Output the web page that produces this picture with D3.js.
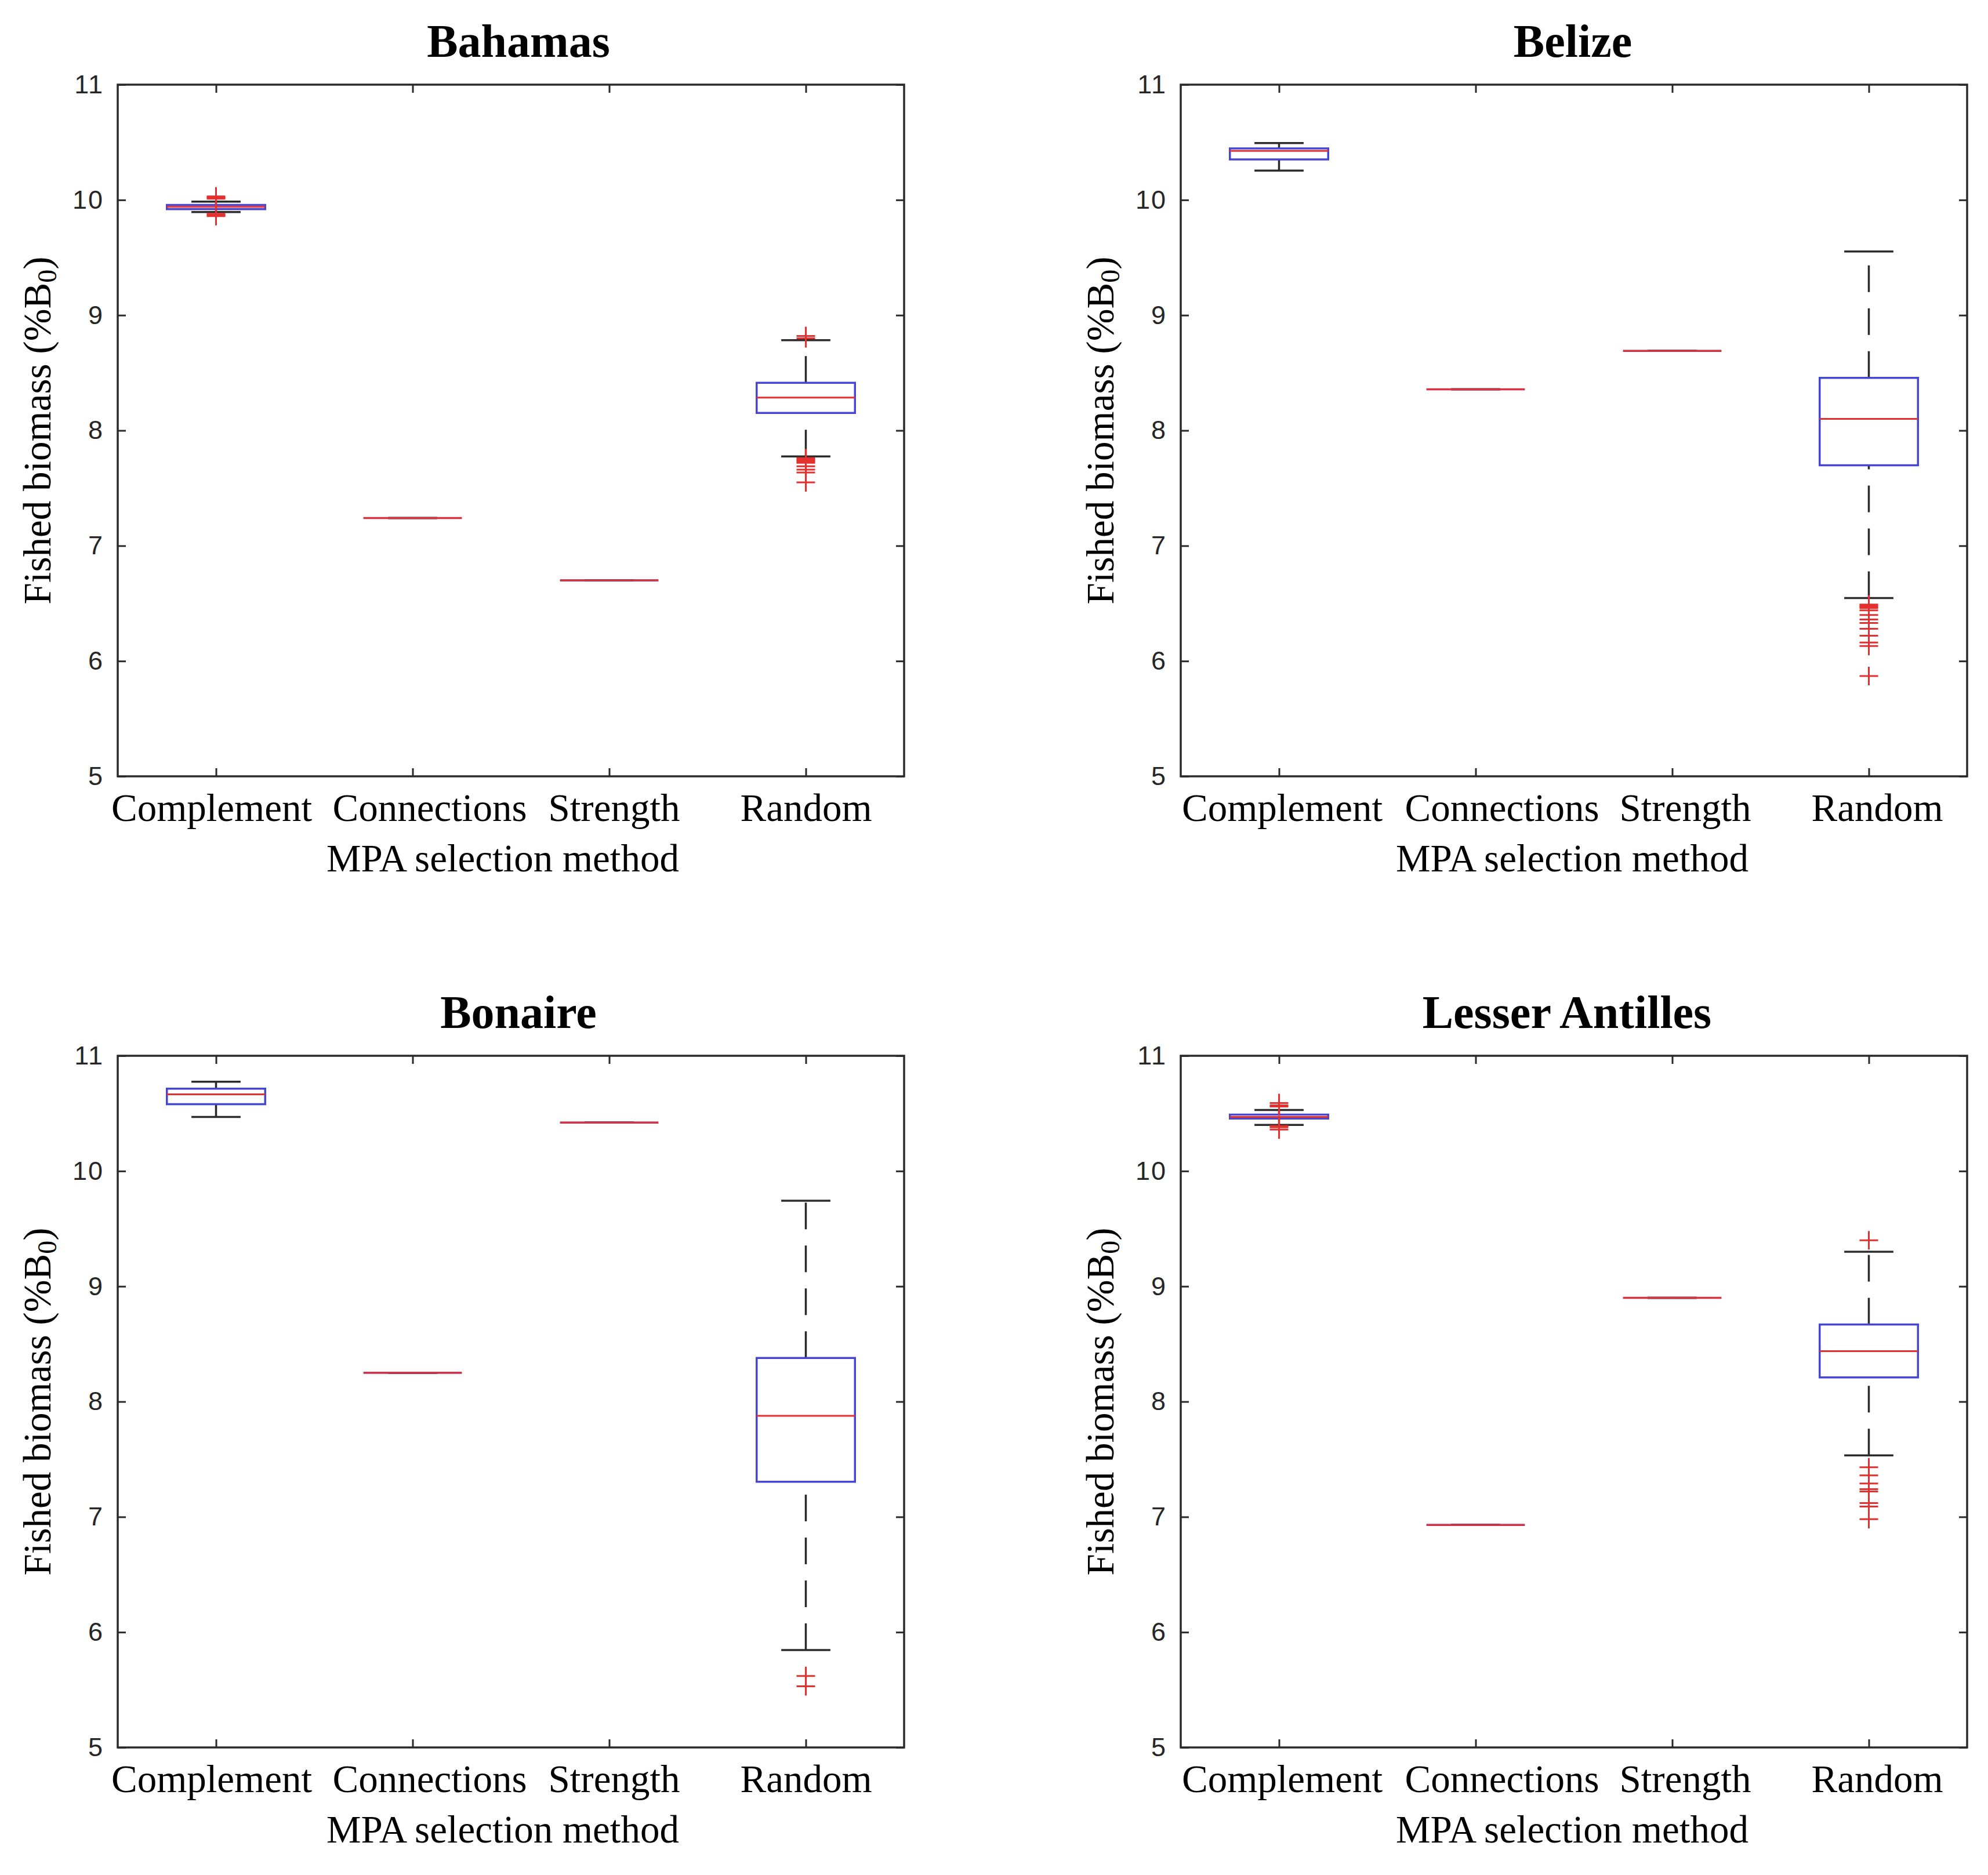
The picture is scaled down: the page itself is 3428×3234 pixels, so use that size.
<!DOCTYPE html>
<html>
<head>
<meta charset="utf-8">
<script src="https://cdn.jsdelivr.net/npm/d3@7/dist/d3.min.js"></script>
<style>
  body { margin: 0; background: #fff; }
  svg { display: block; }
</style>
</head>
<body>
<svg id="chart" width="3428" height="3234"></svg>
<script>
// data, one row per region, one column per method
var regions = ["Bahamas", "Belize", "Bonaire", "Lesser Antilles"];
var methods = ["Complement", "Connections", "Strength", "Random"];
var yTicks = [5, 6, 7, 8, 9, 10, 11];

var whiskerLow = [
  [9.895, 7.24, 6.70, 7.775],
  [10.255, 8.357, 8.69, 6.546],
  [10.47, 8.25, 10.42, 5.845],
  [10.40, 6.93, 8.90, 7.534]
];
var boxLow = [
  [9.92, 7.24, 6.70, 8.152],
  [10.351, 8.357, 8.69, 7.698],
  [10.58, 8.25, 10.42, 7.305],
  [10.455, 6.93, 8.90, 8.21]
];
var medians = [
  [9.94, 7.24, 6.70, 8.285],
  [10.425, 8.357, 8.69, 8.10],
  [10.665, 8.25, 10.42, 7.877],
  [10.47, 6.93, 8.90, 8.437]
];
var boxHigh = [
  [9.957, 7.24, 6.70, 8.414],
  [10.447, 8.357, 8.69, 8.457],
  [10.715, 8.25, 10.42, 8.379],
  [10.49, 6.93, 8.90, 8.669]
];
var whiskerHigh = [
  [9.985, 7.24, 6.70, 8.783],
  [10.493, 8.357, 8.69, 9.553],
  [10.775, 8.25, 10.42, 9.743],
  [10.53, 6.93, 8.90, 9.30]
];
var outliers = [
  [[10.03, 10.02, 10.01, 9.88, 9.87, 9.86], [], [],
   [8.82, 8.80, 7.76, 7.75, 7.74, 7.73, 7.72, 7.69, 7.66, 7.635, 7.55]],
  [[], [], [],
   [6.49, 6.48, 6.47, 6.46, 6.44, 6.40, 6.36, 6.33, 6.28, 6.22, 6.16, 6.13, 5.87]],
  [[], [], [], [5.62, 5.53]],
  [[10.59, 10.57, 10.56, 10.39, 10.38, 10.36], [], [],
   [9.40, 7.43, 7.36, 7.29, 7.24, 7.22, 7.12, 7.09, 6.98]]
];

// layout
var panelLeft = [203, 2036, 203, 2036];
var panelTop = [146, 146, 1821, 1821];
var W = 1356, H = 1193;
var titleShift = [13, -2, 13, -12];
var xlabelShift = [-14, -3, -14, -3];
// matlab nudges the category labels a bit, left column vs right column
var labelShift = [[-8, 29, 8, 0], [5, 45, 22, 14]];

var serif = "'Liberation Serif', 'Times New Roman', serif";
var sans = "'Liberation Sans', Arial, Helvetica, sans-serif";
var axisColor = "#2a2a2a";
var boxColor = "#4646d2";
var medColor = "#e4302f";
var whiskColor = "#2b2b2b";

var svg = d3.select("#chart");

function drawPanel(k) {
  var g = svg.append("g")
    .attr("transform", "translate(" + panelLeft[k] + "," + panelTop[k] + ")");

  var x = d3.scalePoint().domain(methods).range([0, W]).padding(0.5);
  var y = d3.scaleLinear().domain([5, 11]).range([H, 0]);
  var step = x.step();

  // axes, ticks pointing inward like matlab
  g.append("g").attr("class", "axis yl")
    .call(d3.axisLeft(y).tickValues(yTicks).tickSize(-14).tickPadding(24).tickFormat(d3.format("d")));
  g.append("g").attr("class", "axis")
    .attr("transform", "translate(" + W + ",0)")
    .call(d3.axisRight(y).tickValues(yTicks).tickSize(-14).tickFormat(""));
  g.append("g").attr("class", "axis xb")
    .attr("transform", "translate(0," + H + ")")
    .call(d3.axisBottom(x).tickSize(-14).tickPadding(29));
  g.append("g").attr("class", "axis")
    .call(d3.axisTop(x).tickSize(-14).tickFormat(""));

  g.selectAll(".axis .domain").remove();
  g.selectAll(".axis line").attr("stroke", axisColor).attr("stroke-width", 3);
  g.selectAll(".yl text").attr("fill", "#262626")
    .attr("font-family", sans).attr("font-size", 45)
    .attr("letter-spacing", 2);
  g.selectAll(".xb text").attr("fill", "#000")
    .attr("font-family", serif).attr("font-size", 67)
    .attr("dx", function(d, i) { return labelShift[k % 2][i]; });

  g.append("rect")
    .attr("width", W).attr("height", H)
    .attr("fill", "none").attr("stroke", axisColor).attr("stroke-width", 3.5);

  // boxes
  methods.forEach(function(m, i) {
    var cx = x(m);
    var b = g.append("g");

    b.append("line")
      .attr("x1", cx).attr("x2", cx)
      .attr("y1", y(boxHigh[k][i])).attr("y2", y(whiskerHigh[k][i]))
      .attr("stroke", whiskColor).attr("stroke-width", 3.5)
      .attr("stroke-dasharray", "46 28");
    b.append("line")
      .attr("x1", cx).attr("x2", cx)
      .attr("y1", y(whiskerLow[k][i])).attr("y2", y(boxLow[k][i]))
      .attr("stroke", whiskColor).attr("stroke-width", 3.5)
      .attr("stroke-dasharray", "46 28");

    [whiskerHigh[k][i], whiskerLow[k][i]].forEach(function(v) {
      b.append("line")
        .attr("x1", cx - step / 8).attr("x2", cx + step / 8)
        .attr("y1", y(v)).attr("y2", y(v))
        .attr("stroke", whiskColor).attr("stroke-width", 3.5);
    });

    var x0 = cx - step / 4, x1 = cx + step / 4;
    var yt = y(boxHigh[k][i]), yb = y(boxLow[k][i]);
    b.append("path")
      .attr("d", "M" + x0 + "," + yt + "H" + x1 + "V" + yb + "H" + x0 + "Z")
      .attr("fill", "none").attr("stroke", boxColor).attr("stroke-width", 3.5);

    b.append("line")
      .attr("x1", x0).attr("x2", x1)
      .attr("y1", y(medians[k][i])).attr("y2", y(medians[k][i]))
      .attr("stroke", medColor).attr("stroke-width", 3);

    b.selectAll(".out")
      .data(outliers[k][i])
      .enter().append("path")
      .attr("class", "out")
      .attr("transform", function(d) { return "translate(" + cx + "," + y(d) + ")"; })
      .attr("d", "M-16,0H16M0,-16V16")
      .attr("stroke", medColor).attr("stroke-width", 3);
  });

  // texts
  g.append("text")
    .attr("x", W / 2 + titleShift[k]).attr("y", -48)
    .attr("text-anchor", "middle")
    .attr("font-family", serif).attr("font-weight", "bold").attr("font-size", 80)
    .text(regions[k]);

  g.append("text")
    .attr("x", W / 2 + xlabelShift[k]).attr("y", H + 164)
    .attr("text-anchor", "middle")
    .attr("font-family", serif).attr("font-size", 67)
    .text("MPA selection method");

  var yl = g.append("text")
    .attr("transform", "translate(-116," + (H / 2) + ") rotate(-90)")
    .attr("text-anchor", "middle")
    .attr("font-family", serif).attr("font-size", 67);
  yl.append("tspan").text("Fished biomass (%B");
  yl.append("tspan").attr("font-size", 46).attr("dy", 10).text("0");
  yl.append("tspan").attr("dy", -10).text(")");
}

for (var k = 0; k < regions.length; k++) {
  drawPanel(k);
}
</script>
</body>
</html>
